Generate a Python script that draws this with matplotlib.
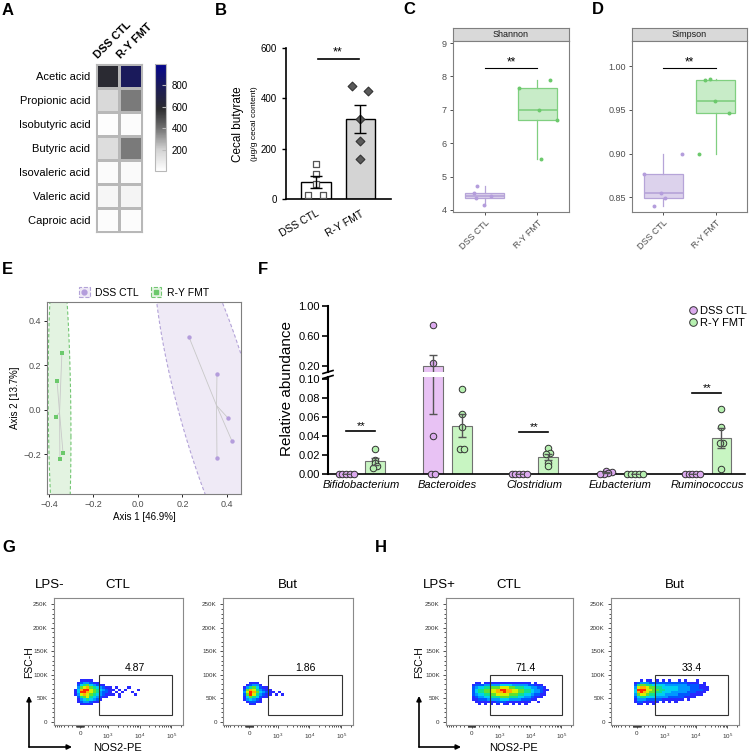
import numpy as np
import matplotlib
matplotlib.use("Agg")
import matplotlib.pyplot as plt
from matplotlib.colors import LinearSegmentedColormap, ListedColormap, BoundaryNorm
from matplotlib.patches import Rectangle, Patch, Polygon, FancyArrowPatch
from matplotlib.lines import Line2D
from matplotlib.ticker import FixedLocator
from matplotlib.transforms import blended_transform_factory

plt.rcParams['font.family'] = ['Liberation Sans', 'DejaVu Sans']
plt.rcParams['mathtext.default'] = 'regular'

W, H = 749, 755

# ---------------- data ----------------
# A: short chain fatty acids heatmap
acid_names = ['Acetic acid', 'Propionic acid', 'Isobutyric acid', 'Butyric acid',
              'Isovaleric acid', 'Valeric acid', 'Caproic acid']
acid_dss = [600, 170, 10, 150, 20, 40, 15]
acid_ry = [800, 380, 15, 380, 25, 50, 15]
heat_cols = ['DSS CTL', 'R-Y FMT']
heat_ticks = [200, 400, 600, 800]

# B: cecal butyrate
groups = ['DSS CTL', 'R-Y FMT']
butyrate_dss = [139, 99, 60, 16, 16]
butyrate_ry = [449, 429, 318, 230, 159]

# C / D: alpha diversity
shannon_dss = [4.72, 4.50, 4.35, 4.15, 4.42]
shannon_ry = [7.90, 7.65, 7.00, 6.70, 5.53]
simpson_dss = [0.876, 0.855, 0.849, 0.840, 0.900]
simpson_ry = [0.984, 0.985, 0.960, 0.946, 0.900]

# E: PCoA
pcoa_dss_x = [0.229, 0.355, 0.404, 0.422, 0.355]
pcoa_dss_y = [0.328, 0.162, -0.036, -0.139, -0.216]
pcoa_ry_x = [-0.342, -0.364, -0.369, -0.337, -0.351]
pcoa_ry_y = [0.256, 0.130, -0.031, -0.193, -0.220]

# F: relative abundance
genera = ['Bifidobacterium', 'Bacteroides', 'Clostridium', 'Eubacterium', 'Ruminococcus']
abund_dss = [[0, 0, 0, 0, 0],
             [0.747, 0.24, 0.04, 0, 0],
             [0, 0, 0, 0, 0],
             [0.003, 0.002, 0.001, 0.0005, 0],
             [0, 0, 0, 0, 0]]
abund_ry = [[0.026, 0.015, 0.012, 0.008, 0.006],
            [0.0895, 0.063, 0.049, 0.026, 0.026],
            [0.027, 0.022, 0.021, 0.012, 0.008],
            [0, 0, 0, 0, 0],
            [0.068, 0.049, 0.033, 0.033, 0.005]]
sig_genera = [0, 2, 4]
sig_heights = [0.045, 0.044, 0.085]

# G / H: flow cytometry, density levels (0-9) per bin, rows from 90K down to 35K
flow_g_ctl = ["000111100000000000000000",
              "001233211000000000000000",
              "002456432110000000000000",
              "003678654321101000100000",
              "014899765432110101000100",
              "014998765322101010010000",
              "013787654321110100001000",
              "002567543211000100000000",
              "001345432100000000000000",
              "001233211000000000000000",
              "000111100000000000000000"]
flow_g_but = ["0000000000000000",
              "0001110000000000",
              "0012331000000000",
              "0135642110000000",
              "0268753211000000",
              "0379864321101000",
              "0269753211010100",
              "0146542110000000",
              "0134321000000000",
              "0012211000000000",
              "0001100000000000"]
flow_h_ctl = ["000000000000000000000000000",
              "001101111111111111110100000",
              "012223333344443333322111000",
              "023445566677766555443322100",
              "024556677899887766554332110",
              "024556677889887766554332100",
              "023445566777766655443221100",
              "012334455566655544332111000",
              "011222333344433332221100000",
              "001111111222111111110010000",
              "000101010101101010100000000"]
flow_h_but = ["000101101010100101000100000",
              "012333222222222222111101000",
              "025665544443333333222211000",
              "037887665544444333322211100",
              "049997766554444333322221100",
              "048987665544433333222111000",
              "036776554443333222211110000",
              "024554443333222221111000000",
              "013332222211111110100000000",
              "012211111010101000000000000",
              "001101010000000000000000000"]
flow_pct = ['4.87', '1.86', '71.4', '33.4']
gate_x = [500, 105000]
gate_y = [15000, 100000]

# ---------------- layout helpers ----------------
shannon_jit_d = [-0.14, -0.21, -0.16, -0.02, 0.12]
shannon_jit_r = [0.24, -0.35, 0.03, 0.37, 0.07]
simpson_jit_d = [-0.38, -0.04, 0.04, -0.17, 0.36]
simpson_jit_r = [-0.21, -0.11, -0.02, 0.26, -0.32]
butyrate_jit_d = [0, 0, 0, -0.18, 0.16]
butyrate_jit_r = [-0.18, 0.18, 0, 0, 0]

fig = plt.figure(figsize=(W / 100, H / 100), dpi=100)


def add_ax(x0, y0, x1, y1):
    return fig.add_axes([x0 / W, 1 - y1 / H, (x1 - x0) / W, (y1 - y0) / H])


def fx(x):
    return x / W


def fy(y):
    return 1 - y / H


def sem(v):
    v = np.asarray(v, dtype=float)
    return v.std(ddof=1) / np.sqrt(len(v))


def spread(vals, tol, step):
    vals = np.asarray(vals, dtype=float)
    offs = np.zeros(len(vals))
    order = np.argsort(vals)
    clusters = []
    for i in order:
        if clusters and vals[i] - vals[clusters[-1][0]] <= tol:
            clusters[-1].append(i)
        else:
            clusters.append([i])
    for c in clusters:
        k = len(c)
        for j, i in enumerate(c):
            offs[i] = (j - (k - 1) / 2) * step
    return offs


# panel letters
for letter, x, y in [('A', 2, 3), ('B', 215, 3), ('C', 403, 2), ('D', 592, 2),
                     ('E', 2, 262), ('F', 258, 262), ('G', 2, 540), ('H', 375, 540)]:
    fig.text(fx(x), fy(y), letter, fontsize=12, fontweight='bold', va='top', ha='left')

# ---------------- A ----------------
axA = add_ax(96, 64, 142, 232)
mat = np.column_stack([acid_dss, acid_ry])
heat_cmap = LinearSegmentedColormap.from_list(
    'heat', [(0, '#ffffff'), (0.2, '#d2d2d2'), (0.4, '#707070'), (0.58, '#2c2c2e'),
             (0.78, '#1c1c56'), (1.0, '#06068e')])
mesh = axA.pcolormesh(mat, cmap=heat_cmap, vmin=0, vmax=1000, edgecolors='#b8b8b8', linewidth=0.8)
axA.set_xlim(0, 2)
axA.set_ylim(len(acid_names), 0)
axA.set_yticks(np.arange(len(acid_names)) + 0.5, acid_names, fontsize=8)
axA.set_xticks([])
axA.tick_params(axis='y', length=0, pad=4)
for s in axA.spines.values():
    s.set_color('#b8b8b8')
for i, name in enumerate(heat_cols):
    axA.text(i + 0.15, -0.15, name, rotation=45, ha='left', va='bottom',
             rotation_mode='anchor', fontsize=8, fontweight='bold')

cax = add_ax(155, 64, 166, 171)
cb = fig.colorbar(mesh, cax=cax, ticks=heat_ticks)
cb.outline.set_edgecolor('#b8b8b8')
cax.tick_params(labelsize=7, length=3, direction='in', color='#bbbbbb', pad=4)

# ---------------- B ----------------
axB = add_ax(286, 47.7, 391, 199)
means_b = [np.mean(butyrate_dss), np.mean(butyrate_ry)]
sems_b = [sem(butyrate_dss), sem(butyrate_ry)]
axB.bar([0, 1], means_b, width=0.66, color=['white', '#d4d4d4'], edgecolor='black', linewidth=1, zorder=1)
axB.scatter(np.array(butyrate_jit_d), butyrate_dss, marker='s', s=22, facecolor='white',
            edgecolor='#555555', linewidth=0.9, zorder=3, clip_on=False)
axB.scatter(1 + np.array(butyrate_jit_r), butyrate_ry, marker='D', s=20, facecolor='#5a5a5a',
            edgecolor='#333333', linewidth=0.8, zorder=3)
axB.errorbar([0, 1], means_b, yerr=sems_b, fmt='none', ecolor='black', elinewidth=1,
             capsize=4, capthick=1, zorder=4)
axB.plot([0.05, 0.98], [556, 556], color='black', lw=1.2)
axB.text(0.5, 556, '**', ha='center', va='bottom', fontsize=9)
axB.set_xlim(-0.68, 1.70)
axB.set_ylim(0, 600)
axB.set_yticks([0, 200, 400, 600])
axB.tick_params(axis='y', labelsize=7, length=3, width=1)
axB.set_xticks([0, 1], groups, rotation=30, ha='right', rotation_mode='anchor', fontsize=7.5)
axB.tick_params(axis='x', length=0, pad=7)
for s in ['top', 'right']:
    axB.spines[s].set_visible(False)
for s in ['left', 'bottom']:
    axB.spines[s].set_linewidth(1.2)
fig.text(fx(238), fy(124), 'Cecal butyrate', rotation=90, ha='center', va='center', fontsize=8.5)
fig.text(fx(254), fy(124), '(µg/g cecal content)', rotation=90, ha='center', va='center', fontsize=6)

# ---------------- C / D ----------------
purple_edge, purple_fill, purple_pt = '#b6a4d8', '#dcd2ec', '#b49ddc'
green_edge, green_fill, green_pt = '#80cf80', '#c8ecc8', '#6cc96c'


def diversity_panel(x0, x1, title, vd, vr, jd, jr, ylim, ticks, labels, sig_y):
    strip = add_ax(x0, 28, x1, 41)
    strip.set_facecolor('#d9d9d9')
    strip.set_xticks([])
    strip.set_yticks([])
    for s in strip.spines.values():
        s.set_color('#7f7f7f')
        s.set_linewidth(0.8)
    strip.text(0.5, 0.5, title, ha='center', va='center', fontsize=6.5, color='#1a1a1a')
    ax = add_ax(x0, 41, x1, 212)
    bp = ax.boxplot([vd, vr], positions=[1, 2], widths=0.75, patch_artist=True, showfliers=False,
                    showcaps=False, whis=1.5, manage_ticks=False)
    for k, (ec, fc) in enumerate([(purple_edge, purple_fill), (green_edge, green_fill)]):
        bp['boxes'][k].set_facecolor(fc)
        bp['boxes'][k].set_edgecolor(ec)
        bp['boxes'][k].set_linewidth(0.9)
        bp['medians'][k].set_color(ec)
        bp['medians'][k].set_linewidth(1.2)
        for w in bp['whiskers'][2 * k:2 * k + 2]:
            w.set_color(ec)
            w.set_linewidth(0.9)
    ax.scatter(1 + np.array(jd), vd, s=8, color=purple_pt, zorder=3, linewidths=0)
    ax.scatter(2 + np.array(jr), vr, s=8, color=green_pt, zorder=3, linewidths=0)
    ax.plot([1, 2], [sig_y, sig_y], color='black', lw=0.8)
    ax.text(1.5, sig_y, '**', ha='center', va='bottom', fontsize=8.5)
    ax.set_xlim(0.4, 2.6)
    ax.set_ylim(*ylim)
    ax.set_yticks(ticks, labels)
    ax.set_xticks([1, 2], groups, rotation=45, ha='right', rotation_mode='anchor')
    ax.tick_params(labelsize=6.5, labelcolor='#4d4d4d', length=2.5, width=0.6, color='#333333', pad=2)
    for s in ax.spines.values():
        s.set_color('#7f7f7f')
        s.set_linewidth(0.8)
    return ax


diversity_panel(453, 569, 'Shannon', shannon_dss, shannon_ry, shannon_jit_d, shannon_jit_r,
                (3.94, 9.06), [4, 5, 6, 7, 8, 9], ['4', '5', '6', '7', '8', '9'], 8.25)
diversity_panel(632, 747, 'Simpson', simpson_dss, simpson_ry, simpson_jit_d, simpson_jit_r,
                (0.833, 1.029), [0.85, 0.90, 0.95, 1.00], ['0.85', '0.90', '0.95', '1.00'], 0.998)

# ---------------- E ----------------
axE = add_ax(47, 302, 241, 494)
qf_95_2_4 = 6.944272


def ellipse_path(x, y, n=200):
    x = np.asarray(x)
    y = np.asarray(y)
    c = np.cov(x, y)
    L = np.linalg.cholesky(c)
    t = np.linspace(0, 2 * np.pi, n)
    unit = np.column_stack([np.cos(t), np.sin(t)])
    r = np.sqrt(2 * qf_95_2_4)
    return np.array([x.mean(), y.mean()]) + r * unit @ L.T


for xs, ys, ec, fc, pc, mk in [(pcoa_dss_x, pcoa_dss_y, '#b3a3d8', '#efeaf6', '#b49ddc', 'o'),
                               (pcoa_ry_x, pcoa_ry_y, '#72c672', '#e3f3e1', '#6cc96c', 's')]:
    pts = ellipse_path(xs, ys)
    axE.add_patch(Polygon(pts, closed=True, facecolor=fc, edgecolor=ec, linestyle=(0, (3, 2)), linewidth=0.8))
    cx, cy = np.mean(xs), np.mean(ys)
    for px_, py_ in zip(xs, ys):
        axE.plot([cx, px_], [cy, py_], color='#c8c8c8', lw=0.6, zorder=2)
    axE.scatter(xs, ys, marker=mk, s=10, color=pc, zorder=3, linewidths=0)
axE.set_xlim(-0.409, 0.463)
axE.set_ylim(-0.378, 0.485)
axE.set_xticks([-0.4, -0.2, 0.0, 0.2, 0.4])
axE.set_yticks([-0.2, 0.0, 0.2, 0.4])
axE.tick_params(labelsize=6.5, labelcolor='#4d4d4d', length=2.5, width=0.6, pad=2)
for s in axE.spines.values():
    s.set_color('#7f7f7f')
    s.set_linewidth(0.8)
axE.set_xlabel('Axis 1 [46.9%]', fontsize=7, labelpad=2)
axE.set_ylabel('Axis 2 [13.7%]', fontsize=7, labelpad=2)
legE = [(Patch(facecolor='#efeaf6', edgecolor='#b3a3d8', linestyle='--', linewidth=0.8),
         Line2D([], [], marker='o', ls='', color='#b49ddc', ms=3.5)),
        (Patch(facecolor='#e3f3e1', edgecolor='#72c672', linestyle='--', linewidth=0.8),
         Line2D([], [], marker='s', ls='', color='#6cc96c', ms=3.5))]
axE.legend(legE, groups, loc='lower center', bbox_to_anchor=(0.5, 0.99), ncol=2, frameon=False,
           fontsize=7.5, handlelength=1.0, handleheight=1.0, handletextpad=0.5, columnspacing=1.2,
           borderaxespad=0.2)

# ---------------- F ----------------
axF1 = add_ax(328, 306, 745, 372)
axF2 = add_ax(328, 377, 745, 474)
bar_w, off = 0.23, 0.168
fP_bar, fG_bar = '#e8c2f4', '#c8f5c2'
fP_pt, fG_pt = '#dcaaef', '#b6f0b0'
xpos = np.arange(len(genera))
for ax, lo, hi in [(axF1, 0.12, 1.0), (axF2, 0.0, 0.102)]:
    for vals, sign, bc, pc in [(abund_dss, -1, fP_bar, fP_pt), (abund_ry, 1, fG_bar, fG_pt)]:
        means = [np.mean(v) for v in vals]
        sems = [sem(v) for v in vals]
        xb = xpos + sign * off
        ax.bar(xb, means, width=bar_w, color=bc, edgecolor='#707070', linewidth=0.8, zorder=1)
        ax.errorbar(xb, means, yerr=sems, fmt='none', ecolor='#555555', elinewidth=1, capsize=3,
                    capthick=1, zorder=4)
        for g, v in enumerate(vals):
            v = np.asarray(v, dtype=float)
            o = spread(v, 0.0025, 0.045)
            keep = (v >= lo) & (v <= hi)
            ax.scatter(xb[g] + o[keep], v[keep], s=22, facecolor=pc, edgecolor='#333333',
                       linewidth=0.7, zorder=3, clip_on=False)
    ax.set_xlim(-0.38, 4.44)
    ax.set_ylim(lo, hi)
    ax.spines['top'].set_visible(False)
    ax.spines['right'].set_visible(False)
    ax.spines['left'].set_linewidth(1.5)
    ax.tick_params(axis='y', labelsize=8, length=4, width=1.2, pad=2)
axF1.spines['bottom'].set_visible(False)
axF1.set_xticks([])
axF1.set_yticks([0.2, 0.6, 1.0], ['0.20', '0.60', '1.00'])
axF2.set_yticks([0, 0.02, 0.04, 0.06, 0.08, 0.10], ['0.00', '0.02', '0.04', '0.06', '0.08', '0.10'])
axF2.spines['bottom'].set_linewidth(1.2)
axF2.set_xticks(xpos, genera, fontsize=8, style='italic')
axF2.tick_params(axis='x', length=0, pad=4)
for g, h in zip(sig_genera, sig_heights):
    axF2.plot([g - off, g + off], [h, h], color='black', lw=1.2)
    axF2.text(g, h, '**', ha='center', va='bottom', fontsize=8)
for yb in [372, 377]:
    fig.add_artist(Line2D([fx(323), fx(333)], [fy(yb + 1.5), fy(yb - 1.5)], color='black', lw=1.2))
fig.text(fx(287), fy(388), 'Relative abundance', rotation=90, ha='center', va='center', fontsize=11)
legF = [Line2D([], [], marker='o', ls='', mfc=fP_pt, mec='#333333', ms=5.5, mew=0.7),
        Line2D([], [], marker='o', ls='', mfc=fG_pt, mec='#333333', ms=5.5, mew=0.7)]
fig.legend(legF, groups, loc='center left', bbox_to_anchor=(fx(682), fy(317)), frameon=False,
           fontsize=8, handletextpad=0.1, labelspacing=0.15, borderpad=0, handlelength=1.0)

# ---------------- G / H ----------------
flow_colors = ['#2828ff', '#0058ff', '#0098ff', '#00d0f0', '#10e090', '#60e030',
               '#d8f000', '#ffb000', '#ff2800']
flow_cmap = ListedColormap(flow_colors)
flow_norm = BoundaryNorm(np.arange(0.5, 10.5, 1), flow_cmap.N)
LT = 300
x_minor = (list(range(-800, -150, 100)) + list(np.arange(-100, 101, 12.5)) + list(range(200, 1000, 100))
           + [k * 1e3 for k in range(2, 10)] + [k * 1e4 for k in range(2, 10)] + [2e5])


def flow_plot(x0, x1, grid, d0, pct):
    ax = add_ax(x0, 598, x1, 725)
    ax.set_xscale('symlog', linthresh=LT, linscale=0.33)
    ax.set_xlim(-860, 2.35e5)
    ax.set_ylim(-7000, 263000)
    lev = np.array([[int(c) for c in r] for r in grid])[::-1]
    nr, nc = lev.shape
    tr = ax.xaxis.get_transform()
    x_edges = tr.inverted().transform((d0 + 0.1 * np.arange(nc + 1)) * LT)
    y_edges = 35000 + 5000 * np.arange(nr + 1)
    ax.pcolormesh(x_edges, y_edges, np.ma.masked_equal(lev, 0), cmap=flow_cmap, norm=flow_norm)
    ax.add_patch(Rectangle((gate_x[0], gate_y[0]), gate_x[1] - gate_x[0], gate_y[1] - gate_y[0],
                           fill=False, edgecolor='#333333', linewidth=0.8))
    tg = tr.transform(np.array(gate_x, dtype=float))
    xc = tr.inverted().transform(np.array([tg.mean()]))[0]
    ax.text(xc, 103000, pct, ha='center', va='bottom', fontsize=7.5)
    ax.set_xticks([0, 1e3, 1e4, 1e5], ['0', '$10^3$', '$10^4$', '$10^5$'])
    ax.xaxis.set_minor_locator(FixedLocator(x_minor))
    ax.set_yticks([0, 50000, 100000, 150000, 200000, 250000], ['0', '50K', '100K', '150K', '200K', '250K'])
    ax.yaxis.set_minor_locator(FixedLocator(np.arange(10000, 260000, 10000)))
    ax.tick_params(which='both', labelsize=4.5, labelcolor='#333333', width=0.6, color='#333333', pad=2)
    ax.tick_params(which='major', length=2.5)
    ax.tick_params(which='minor', length=1.5)
    for s in ax.spines.values():
        s.set_color('#8a8a8a')
        s.set_linewidth(0.8)
    return ax


flow_plot(54, 183, flow_g_ctl, -0.3, flow_pct[0])
flow_plot(223, 353, flow_g_but, -0.3, flow_pct[1])
flow_plot(446, 573, flow_h_ctl, -0.1, flow_pct[2])
flow_plot(611, 739, flow_h_but, -0.2, flow_pct[3])

for txt, x, ha in [('LPS-', 35, 'left'), ('CTL', 118, 'center'), ('But', 288, 'center'),
                   ('LPS+', 423, 'left'), ('CTL', 509, 'center'), ('But', 675, 'center')]:
    fig.text(fx(x), fy(585), txt, ha=ha, va='center', fontsize=9.5)

for xa, xe, xl in [(29, 72, 118), (419, 461, 513)]:
    fig.add_artist(FancyArrowPatch((fx(xa), fy(747)), (fx(xa), fy(696)), transform=fig.transFigure,
                                   arrowstyle='-|>', mutation_scale=7, lw=1.2, color='black',
                                   shrinkA=0, shrinkB=0))
    fig.add_artist(FancyArrowPatch((fx(xa), fy(747)), (fx(xe), fy(747)), transform=fig.transFigure,
                                   arrowstyle='-|>', mutation_scale=7, lw=1.2, color='black',
                                   shrinkA=0, shrinkB=0))
    fig.text(fx(xa), fy(662), 'FSC-H', rotation=90, ha='center', va='center', fontsize=7.5)
    fig.text(fx(xl), fy(748), 'NOS2-PE', ha='center', va='center', fontsize=8)

fig.savefig('out.png', dpi=100)
